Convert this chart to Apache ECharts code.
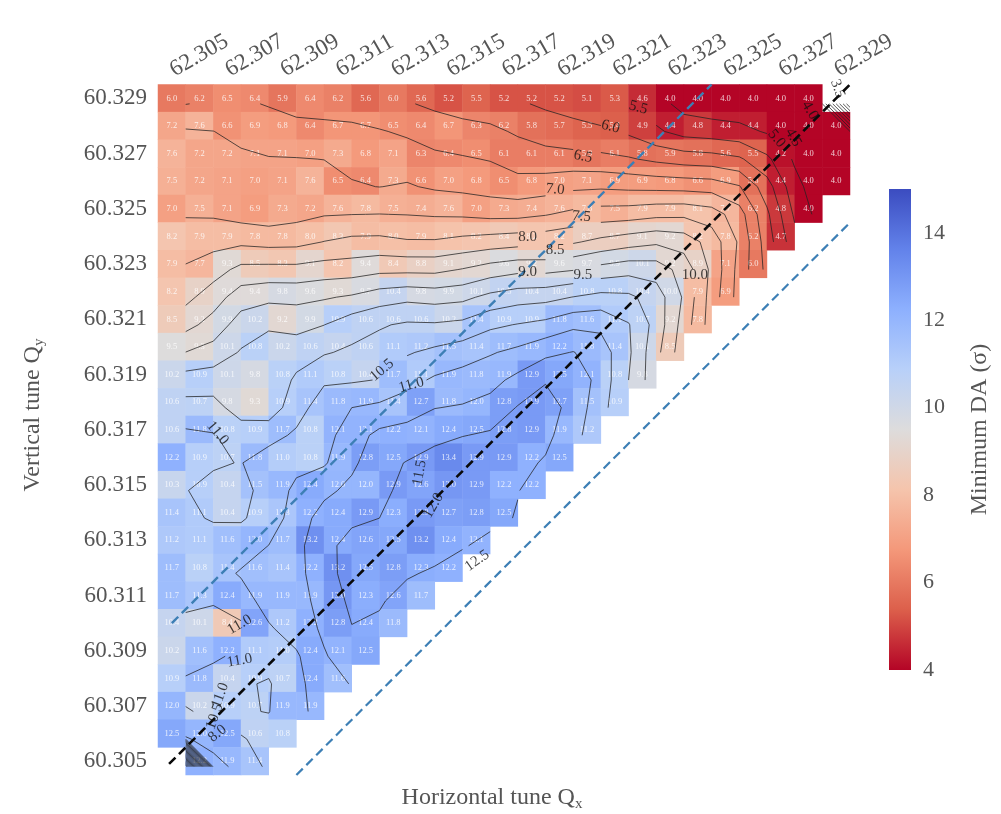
<!DOCTYPE html>
<html><head><meta charset="utf-8"><style>html,body{margin:0;padding:0;background:#fff}#c{width:1001px;height:814px}</style>
<script src="https://cdn.jsdelivr.net/npm/echarts@6/dist/echarts.min.js"></script></head><body><div id="c"></div>
<script>
const qxTicks=['62.305','62.306','62.307','62.308','62.309','62.310','62.311','62.312','62.313','62.314','62.315','62.316','62.317','62.318','62.319','62.320','62.321','62.322','62.323','62.324','62.325','62.326','62.327','62.328','62.329'];
const qyTicks=['60.305','60.306','60.307','60.308','60.309','60.310','60.311','60.312','60.313','60.314','60.315','60.316','60.317','60.318','60.319','60.320','60.321','60.322','60.323','60.324','60.325','60.326','60.327','60.328','60.329'];
// Minimum DA per row, from Qy=60.329 down to 60.305; columns from Qx=62.305. null = no cell.
const da60329=[6.0,6.2,6.5,6.4,5.9,6.4,6.2,5.6,6.0,5.6,5.2,5.5,5.2,5.2,5.2,5.1,5.3,4.6,4.0,4.0,4.0,4.0,4.0,4.0,null];
const da60328=[7.2,7.6,6.6,6.9,6.8,6.4,6.7,6.7,6.5,6.4,6.7,6.3,6.2,5.8,5.7,5.5,5.4,4.9,4.4,4.8,4.4,4.4,4.0,4.0,4.0];
const da60327=[7.6,7.2,7.2,7.1,7.1,7.0,7.3,6.8,7.1,6.3,6.4,6.5,6.1,6.1,6.1,5.9,6.1,5.8,5.9,5.8,5.6,5.5,4.2,4.0,4.0];
const da60326=[7.5,7.2,7.1,7.0,7.1,7.6,6.5,6.4,7.3,6.6,7.0,6.8,6.5,6.8,7.0,7.1,6.9,6.9,6.8,6.6,6.9,5.8,4.4,4.0,4.0];
const da60325=[7.0,7.5,7.1,6.9,7.3,7.2,7.6,7.8,7.5,7.4,7.6,7.0,7.3,7.4,7.6,7.8,7.5,7.9,7.9,8.1,7.7,6.2,4.8,4.0];
const da60324=[8.2,7.9,7.9,7.8,7.8,8.0,8.3,7.9,8.0,7.9,8.1,8.2,8.4,8.2,8.2,8.7,8.7,9.1,9.2,8.2,7.8,6.2,4.7];
const da60323=[7.9,7.7,9.3,8.5,8.3,9.1,8.2,9.4,8.4,8.8,9.1,9.2,9.6,9.2,9.6,9.7,9.9,10.1,9.2,8.9,7.1,6.0];
const da60322=[8.2,8.9,9.4,9.4,9.8,9.6,9.3,9.7,10.4,9.8,9.9,10.1,10.5,10.4,10.4,10.8,10.8,10.4,10.0,7.9,6.9];
const da60321=[8.5,9.2,9.9,10.2,9.2,9.9,10.9,10.6,10.6,10.6,10.2,11.4,10.9,10.9,11.8,11.6,11.1,10.7,9.2,7.8];
const da60320=[9.5,9.3,10.1,10.8,10.2,10.6,10.4,10.6,11.1,11.2,11.5,11.4,11.7,11.9,12.2,11.8,11.4,10.1,8.5];
const da60319=[10.2,10.9,10.1,9.8,10.8,11.1,10.8,10.4,11.7,11.1,11.9,11.8,11.9,12.9,12.5,12.1,10.8,9.8];
const da60318=[10.6,10.7,9.8,9.3,10.9,11.4,11.8,11.9,11.4,12.7,11.8,12.0,12.8,12.9,12.7,11.5,10.9];
const da60317=[10.6,11.8,10.8,10.9,11.7,10.8,12.1,12.1,12.2,12.1,12.4,12.5,12.8,12.9,11.9,11.2];
const da60316=[12.2,10.9,10.7,11.8,11.0,10.8,11.9,12.8,12.5,12.9,13.4,12.9,12.9,12.2,12.5];
const da60315=[10.3,10.9,10.4,11.5,11.9,12.4,12.0,12.0,12.9,12.6,13.0,12.9,12.2,12.2];
const da60314=[11.4,11.1,10.4,10.9,11.3,12.2,12.4,12.9,12.3,12.9,12.7,12.8,12.5];
const da60313=[11.2,11.1,11.6,12.0,11.7,13.2,12.4,12.6,12.5,13.2,12.4,12.1];
const da60312=[11.7,10.8,11.4,11.6,11.4,12.2,13.2,12.5,12.8,12.3,12.2];
const da60311=[11.7,11.3,12.4,11.9,11.9,11.9,13.0,12.3,12.6,11.7];
const da60310=[10.4,10.1,8.4,12.6,11.2,12.2,12.8,12.4,11.8];
const da60309=[10.2,11.6,12.2,11.1,11.0,12.4,12.1,12.5];
const da60308=[10.9,11.8,10.4,10.9,10.7,12.4,11.6];
const da60307=[12.0,10.2,10.9,10.7,11.9,11.9];
const da60306=[12.5,12.0,12.5,10.6,10.8];
const da60305=[null,12.2,11.9,11.4];
const daRows=[da60329,da60328,da60327,da60326,da60325,da60324,da60323,da60322,da60321,da60320,da60319,da60318,da60317,da60316,da60315,da60314,da60313,da60312,da60311,da60310,da60309,da60308,da60307,da60306,da60305];
const contourLevels=[0.5,1,1.5,2,2.5,3,3.5,4,4.5,5,5.5,6,6.5,7,7.5,8,8.5,9,9.5,10,10.5,11,11.5,12,12.5];
// inline contour labels: [text, Qx, Qy, rotation]
const contourLabels=[['5.5',62.32185,60.32866,-15],['6.0',62.32085,60.32797,-15],['6.5',62.31985,60.32689,-12],['7.0',62.31885,60.32570,-5],['7.5',62.31980,60.32472,-5],['8.0',62.31785,60.32396,0],['8.5',62.31885,60.32349,0],['9.0',62.31785,60.32270,0],['9.5',62.31985,60.32259,0],['10.0',62.32390,60.32259,0],['10.5',62.31259,60.31916,40],['11.0',62.31365,60.31862,15],['11.0',62.30665,60.31688,-50],['11.5',62.31395,60.31544,80],['12.0',62.31445,60.31425,60],['12.5',62.31603,60.31226,35],['11.0',62.30745,60.30994,30],['11.0',62.30745,60.30864,10],['4.0',62.32805,60.32856,-60],['4.5',62.32745,60.32758,-60],['5.0',62.32685,60.32754,-50],['3.5',62.32905,60.32935,-70],['11.0',62.30675,60.30738,70],['10.5',62.30655,60.30662,70],['8.0',62.30665,60.30600,40]];
const resonanceCentre=[[62.3049,60.3049],[62.3295,60.3295]];
const resonanceUpper=[[62.305,60.310],[62.3245,60.3295]];
const resonanceLower=[[62.3095,60.3045],[62.3295,60.3245]];
const coolwarmLowToHigh=['#b40426','#dc5f4b','#f4987a','#f5c4ac','#dddcdc','#b8d0f9','#8db0fe','#6282ea','#3b4cc0'];

const ROWS=daRows.length,COLS=qxTicks.length;
const val=(r,c)=>{const v=daRows[r]&&daRows[r][c];return v==null?null:v;};
const heat=[];
daRows.forEach((row,r)=>row.forEach((v,c)=>{if(v!=null)heat.push([c,ROWS-1-r,v]);}));
// light smoothing for the contour field
const field=[];
for(let r=0;r<ROWS;r++){field.push([]);for(let c=0;c<COLS;c++){
  if(val(r,c)==null){field[r].push(null);continue;}
  let s=0,w=0;for(let i=-1;i<=1;i++)for(let j=-1;j<=1;j++){if(r+i<0||r+i>=ROWS)continue;const v=val(r+i,c+j);if(v==null)continue;const k=(2-Math.abs(i))*(2-Math.abs(j));s+=k*v;w+=k;}
  field[r].push(s/w);}}
field[0][24]=0;field[24][0]=0;
const DX=0.0005,DY=-0.0002;
const vx=c=>62.305+0.001*c+DX, vy=r=>60.329-0.001*r+DY;
function skip(x,y){return contourLabels.some(l=>{const dx=(x-l[1])/0.0005,dy=(y-l[2])/0.0005;return dx*dx+dy*dy<1.0*(l[0].length>3?1.1:0.8);});}
function contourSegments(lv){const out=[];
  const cross=(a,b,xa,ya,xb,yb)=>{const t=(lv-a)/(b-a);return [xa+t*(xb-xa),ya+t*(yb-ya)];};
  for(let r=0;r<ROWS-1;r++)for(let c=0;c<COLS-1;c++){
    const a=field[r][c],b=field[r][c+1],d=field[r+1][c],e=field[r+1][c+1];
    if(a==null||b==null||d==null||e==null)continue;
    const pts=[];
    const x0=vx(c),x1=vx(c+1),y0=vy(r),y1=vy(r+1);
    if((a<lv)!==(b<lv))pts.push(cross(a,b,x0,y0,x1,y0));
    if((b<lv)!==(e<lv))pts.push(cross(b,e,x1,y0,x1,y1));
    if((e<lv)!==(d<lv))pts.push(cross(e,d,x1,y1,x0,y1));
    if((d<lv)!==(a<lv))pts.push(cross(d,a,x0,y1,x0,y0));
    for(let i=0;i+1<pts.length;i+=2){
      const m=[(pts[i][0]+pts[i+1][0])/2,(pts[i][1]+pts[i+1][1])/2];
      if(skip(m[0],m[1]))continue;
      out.push(pts[i],pts[i+1],[null,null]);}
  }
  return out;}
const axisGray='#555';
const serif='"Liberation Serif","Times New Roman",serif';
const contourSeries=contourLevels.map(lv=>({type:'line',xAxisIndex:1,yAxisIndex:1,data:contourSegments(lv),showSymbol:false,symbol:'none',silent:true,connectNulls:false,z:3,lineStyle:{color:'#222',width:0.9,opacity:0.85},animation:false}));
const dashed=(d,color,w,dash)=>({type:'line',xAxisIndex:1,yAxisIndex:1,data:d,symbol:'none',silent:true,z:5,lineStyle:{color,width:w,type:dash},animation:false});
const chart=echarts.init(document.getElementById('c'),null,{renderer:'canvas'});
chart.setOption({animation:false,backgroundColor:'#fff',
 grid:[{left:158,top:84.5,width:692,height:690.5},{left:889,top:189,width:22,height:481}],
 visualMap:{show:false,type:'continuous',min:4,max:15,seriesIndex:0,inRange:{color:coolwarmLowToHigh}},
 xAxis:[
  {type:'category',gridIndex:0,position:'top',data:qxTicks,offset:3,axisLine:{show:false},axisTick:{alignWithLabel:true,interval:1,length:7,lineStyle:{color:'#444',width:1.4}},axisLabel:{interval:1,rotate:-30,margin:10,fontFamily:serif,fontSize:23,color:axisGray},splitLine:{show:false}},
  {type:'value',gridIndex:0,min:62.3045,max:62.3295,show:false,splitLine:{show:false}},
  {type:'category',gridIndex:1,data:['DA'],show:false}],
 yAxis:[
  {type:'category',gridIndex:0,data:qyTicks,offset:3,axisLine:{show:false},axisTick:{alignWithLabel:true,interval:1,length:6,lineStyle:{color:'#444',width:1.4}},axisLabel:{interval:1,margin:8,fontFamily:serif,fontSize:23,color:axisGray},splitLine:{show:false}},
  {type:'value',gridIndex:0,min:60.3045,max:60.3295,show:false,splitLine:{show:false}},
  {type:'value',gridIndex:1,position:'right',min:4,max:15,interval:2,offset:2,axisLine:{show:false},splitLine:{show:false},
   axisTick:{length:8,customValues:[4,6,8,10,12,14],lineStyle:{color:'#555',width:1.4}},
   axisLabel:{customValues:[4,6,8,10,12,14],margin:10,fontFamily:serif,fontSize:22,color:axisGray},
   name:'Minimum DA (σ)',nameLocation:'middle',nameRotate:90,nameGap:55,nameTextStyle:{fontFamily:serif,fontSize:24,color:axisGray}}],
 series:[
  {type:'heatmap',xAxisIndex:0,yAxisIndex:0,data:heat,z:1,silent:true,
   label:{show:true,fontFamily:serif,fontSize:8.5,color:'rgba(255,255,255,0.8)',formatter:p=>p.value[2].toFixed(1)},itemStyle:{borderWidth:0}},
  {type:'bar',xAxisIndex:2,yAxisIndex:2,data:[15],barWidth:'100%',silent:true,itemStyle:{color:{type:'linear',x:0,y:1,x2:0,y2:0,colorStops:coolwarmLowToHigh.map((c,i,a)=>({offset:i/(a.length-1),color:c}))}}},
  ...contourSeries,
  dashed(resonanceUpper,'#3d7fb5',2.4,[9,5]),
  dashed(resonanceLower,'#3d7fb5',2.2,[9,5]),
  dashed(resonanceCentre,'#0a0a0a',2.6,[9,5]),
  {type:'scatter',xAxisIndex:1,yAxisIndex:1,symbolSize:0,z:6,silent:true,
   data:contourLabels.map(l=>({value:[l[1],l[2]],label:{show:true,position:'inside',formatter:l[0],rotate:l[3],fontFamily:serif,fontSize:15,color:'#111'}}))}
 ],
 graphic:[
  {type:'text',x:492,y:798,z:10,style:{text:'{a|Horizontal tune Q}{b|x}',align:'center',verticalAlign:'middle',rich:{a:{fontFamily:serif,fontSize:24,fill:axisGray,color:axisGray},b:{fontFamily:serif,fontSize:15,fill:axisGray,color:axisGray,verticalAlign:'bottom',padding:[12,0,0,0]}}}},
  {type:'text',x:33,y:415,rotation:Math.PI/2,z:10,style:{text:'{a|Vertical tune Q}{b|y}',align:'center',verticalAlign:'middle',rich:{a:{fontFamily:serif,fontSize:24,fill:axisGray,color:axisGray},b:{fontFamily:serif,fontSize:15,fill:axisGray,color:axisGray,verticalAlign:'bottom',padding:[12,0,0,0]}}}}
 ]
});
</script></body></html>
